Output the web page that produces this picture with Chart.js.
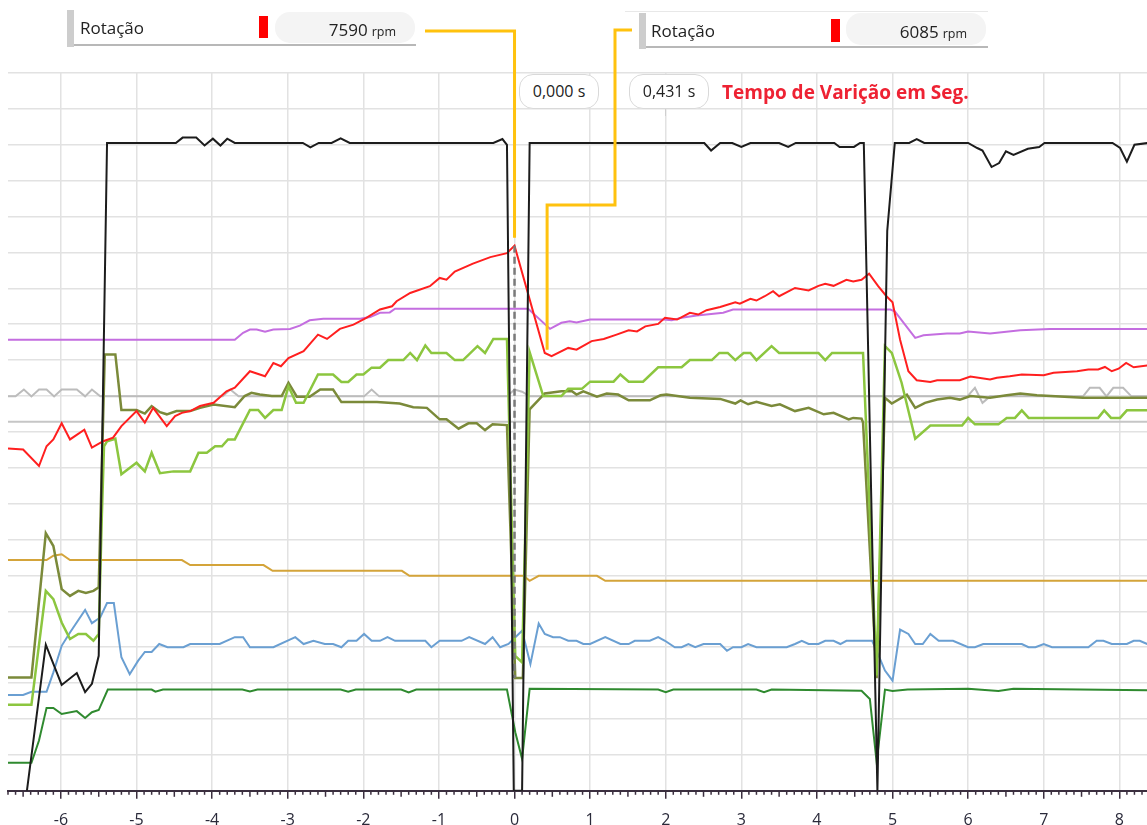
<!DOCTYPE html>
<html>
<head>
<meta charset="utf-8">
<title>Rotação</title>
<script src="https://cdn.jsdelivr.net/npm/chart.js@4.4.0/dist/chart.umd.min.js"></script>
<style>
    html, body { margin: 0; padding: 0; background: #fff; }
    #wrap { position: relative; width: 1147px; height: 825px; overflow: hidden; font-family: "Open Sans", "Noto Sans", sans-serif; color: #222; }
    #chart { position: absolute; left: 0; top: 0; }
    .abs { position: absolute; }
    .bar { background: #cdcdcd; }
    .line { background: #b8b8b8; }
    .label { font-size: 17px; line-height: 20px; }
    .mark { background: #ff0000; }
    .pill { background: #f4f4f4; border-radius: 15px; text-align: right; box-sizing: border-box; padding-right: 19px; font-size: 17px; }
    .pill small { font-size: 12.5px; margin-left: 4px; }
    .time { border: 1.5px solid #d9d9d9; border-radius: 14px; box-sizing: border-box; text-align: center; font-size: 16px; background: #fff; }
    .note { color: #ee2233; font-weight: bold; font-size: 19px; }
</style>
</head>
<body>
<div id="wrap">
    <canvas id="chart" width="1147" height="842"></canvas>

    <!-- left cursor readout -->
    <div class="abs bar" style="left:67px;top:10px;width:7px;height:37px"></div>
    <div class="abs line" style="left:74px;top:44px;width:342px;height:2px"></div>
    <div class="abs label" style="left:80px;top:18px">Rotação</div>
    <div class="abs mark" style="left:259px;top:16px;width:9px;height:22px"></div>
    <div class="abs pill" style="left:275px;top:12px;width:140px;height:31px;line-height:35px">7590<small>rpm</small></div>

    <!-- right cursor readout -->
    <div class="abs" style="left:625px;top:11px;width:363px;height:1px;background:#e8e8e8"></div>
    <div class="abs bar" style="left:639px;top:13px;width:7px;height:36px"></div>
    <div class="abs line" style="left:646px;top:46px;width:342px;height:2px"></div>
    <div class="abs label" style="left:651px;top:21px">Rotação</div>
    <div class="abs mark" style="left:831px;top:19px;width:9px;height:23px"></div>
    <div class="abs pill" style="left:846px;top:13px;width:140px;height:32px;line-height:37px">6085<small>rpm</small></div>

    <!-- time boxes -->
    <div class="abs time" style="left:519px;top:74px;width:80px;height:35px;line-height:32px">0,000 s</div>
    <div class="abs time" style="left:629px;top:74px;width:80px;height:35px;line-height:32px">0,431 s</div>
    <div class="abs" style="left:665px;top:109px;width:1px;height:7px;background:#cfcfcf"></div>
    <div class="abs note" style="left:722px;top:79px">Tempo de Varição em Seg.</div>
</div>

<script>
// --- DATA (x = seconds, y = normalised grid units 0..20) ---
const xTicks = [-6, -5, -4, -3, -2, -1, 0, 1, 2, 3, 4, 5, 6, 7, 8];

const cursorA = 0.0;     // 7590 rpm
const cursorB = 0.431;   // 6085 rpm
const cursorEndA = 15.41;
const cursorEndB = 12.29;

const blackPts = [
    [-6.45, 0], [-6.20, 4.07], [-5.99, 2.95], [-5.79, 3.28], [-5.68, 2.75], [-5.59, 2.98], [-5.50, 3.76],
    [-5.39, 18.05], [-4.48, 18.05], [-4.39, 18.2], [-4.21, 18.2], [-4.10, 17.98], [-3.99, 18.17],
    [-3.89, 17.98], [-3.80, 18.17], [-3.70, 18.05], [-2.80, 18.05], [-2.70, 17.93], [-2.59, 18.05],
    [-2.42, 18.05], [-2.30, 18.18], [-2.18, 18.05], [-0.28, 18.05], [-0.16, 18.16], [-0.10, 18.0],
    [-0.01, 0], [0.10, 0], [0.20, 18.05], [2.51, 18.05], [2.60, 17.84], [2.72, 18.05], [2.88, 18.05],
    [3.00, 17.94], [3.12, 18.05], [3.50, 18.05], [3.62, 17.94], [3.72, 18.05], [4.23, 18.05],
    [4.30, 17.94], [4.49, 17.94], [4.57, 18.05], [4.62, 18.05], [4.80, 0], [4.93, 15.6], [5.03, 18.05],
    [5.22, 18.05], [5.32, 18.16], [5.42, 18.05], [6.00, 18.05], [6.12, 17.91], [6.19, 17.84],
    [6.31, 17.38], [6.41, 17.49], [6.50, 17.82], [6.60, 17.72], [6.79, 17.89], [6.94, 17.94],
    [7.01, 18.05], [7.91, 18.05], [8.01, 17.91], [8.10, 17.53], [8.20, 18.0], [8.38, 18.05]
];

const redPts = [
    [-6.70, 9.54], [-6.50, 9.51], [-6.29, 9.05], [-6.19, 9.60], [-6.10, 9.79], [-5.99, 10.24],
    [-5.88, 9.79], [-5.69, 10.06], [-5.59, 9.56], [-5.44, 9.74], [-5.31, 9.84], [-5.20, 10.16],
    [-5.00, 10.58], [-4.89, 10.26], [-4.78, 10.67], [-4.60, 10.16], [-4.49, 10.44], [-4.40, 10.53],
    [-4.29, 10.58], [-4.16, 10.72], [-3.98, 10.81], [-3.81, 11.13], [-3.70, 11.23], [-3.50, 11.69],
    [-3.30, 11.55], [-3.19, 11.92], [-3.09, 11.83], [-2.99, 12.06], [-2.79, 12.25], [-2.60, 12.71],
    [-2.48, 12.59], [-2.31, 12.87], [-2.13, 12.99], [-1.96, 13.18], [-1.78, 13.41], [-1.62, 13.5],
    [-1.56, 13.64], [-1.38, 13.87], [-1.12, 14.06], [-0.99, 14.29], [-0.90, 14.24], [-0.79, 14.47],
    [-0.55, 14.69], [-0.32, 14.87], [-0.10, 14.98], [0.0, 15.19], [0.40, 12.2], [0.49, 12.11],
    [0.71, 12.34], [0.82, 12.29], [1.02, 12.53], [1.18, 12.59], [1.35, 12.71], [1.51, 12.83],
    [1.62, 12.80], [1.73, 12.94], [1.90, 13.01], [1.99, 13.18], [2.15, 13.13], [2.32, 13.32],
    [2.43, 13.27], [2.54, 13.39], [2.72, 13.48], [2.92, 13.61], [2.98, 13.57], [3.12, 13.71],
    [3.20, 13.66], [3.31, 13.78], [3.42, 13.92], [3.50, 13.78], [3.71, 14.01], [3.89, 13.94],
    [4.02, 14.07], [4.11, 14.13], [4.22, 14.07], [4.39, 14.24], [4.48, 14.19], [4.59, 14.24],
    [4.69, 14.41], [4.81, 14.06], [4.92, 13.78], [5.00, 13.61], [5.10, 12.57], [5.21, 11.69],
    [5.32, 11.44], [5.50, 11.39], [5.59, 11.44], [5.89, 11.44], [6.03, 11.54], [6.29, 11.46],
    [6.38, 11.51], [6.55, 11.55], [6.71, 11.6], [7.00, 11.58], [7.13, 11.65], [7.44, 11.69],
    [7.59, 11.74], [7.72, 11.74], [7.81, 11.81], [7.90, 11.69], [7.99, 11.76], [8.09, 11.92],
    [8.19, 11.8], [8.37, 11.85]
];

const purplePts = [
    [-6.70, 12.57], [-3.70, 12.57], [-3.59, 12.76], [-3.50, 12.85], [-3.41, 12.85], [-3.30, 12.79],
    [-3.19, 12.85], [-2.97, 12.87], [-2.84, 12.96], [-2.71, 13.11], [-2.53, 13.15], [-2.04, 13.15],
    [-1.91, 13.2], [-1.78, 13.32], [-1.65, 13.33], [-1.58, 13.43], [0.18, 13.43], [0.47, 12.87],
    [0.62, 13.04], [0.73, 13.08], [0.82, 13.05], [1.00, 13.13], [1.97, 13.13], [2.08, 13.11],
    [2.21, 13.18], [2.41, 13.24], [2.76, 13.32], [2.89, 13.41], [3.03, 13.41], [4.97, 13.41],
    [5.03, 13.36], [5.30, 12.62], [5.41, 12.69], [5.72, 12.74], [5.89, 12.74], [6.00, 12.8],
    [6.29, 12.74], [6.69, 12.83], [7.08, 12.87], [8.37, 12.87]
];

const lightGreenPts = [
    [-6.70, 2.40], [-6.39, 2.40], [-6.20, 5.57], [-6.10, 5.34], [-5.99, 4.69], [-5.88, 4.23],
    [-5.77, 4.37], [-5.67, 4.37], [-5.57, 4.18], [-5.50, 4.37], [-5.46, 7.57], [-5.43, 9.60],
    [-5.39, 9.74], [-5.28, 9.81], [-5.20, 8.82], [-5.00, 9.14], [-4.89, 8.9], [-4.80, 9.42],
    [-4.69, 8.85], [-4.51, 8.9], [-4.29, 8.9], [-4.18, 9.42], [-4.07, 9.42], [-3.96, 9.6],
    [-3.87, 9.6], [-3.79, 9.79], [-3.70, 9.79], [-3.50, 10.61], [-3.39, 10.61], [-3.30, 10.39],
    [-3.19, 10.61], [-3.08, 10.61], [-2.99, 11.27], [-2.89, 10.81], [-2.79, 10.81], [-2.60, 11.6],
    [-2.40, 11.6], [-2.29, 11.39], [-2.20, 11.39], [-2.09, 11.6], [-2.00, 11.6], [-1.89, 11.79],
    [-1.78, 11.79], [-1.67, 12.0], [-1.47, 12.0], [-1.38, 12.2], [-1.29, 12.0], [-1.18, 12.41],
    [-1.10, 12.2], [-0.90, 12.2], [-0.79, 12.0], [-0.68, 12.0], [-0.49, 12.39], [-0.39, 12.2],
    [-0.28, 12.59], [-0.10, 12.59], [0.01, 3.76], [0.10, 3.58], [0.20, 12.22], [0.38, 11.0],
    [0.62, 11.0], [0.71, 11.2], [0.89, 11.2], [1.00, 11.4], [1.31, 11.4], [1.40, 11.6], [1.51, 11.4],
    [1.70, 11.4], [1.90, 11.8], [2.21, 11.8], [2.32, 12.0], [2.61, 12.0], [2.71, 12.2], [2.82, 12.2],
    [2.92, 12.0], [3.03, 12.2], [3.12, 12.2], [3.20, 12.0], [3.40, 12.39], [3.50, 12.2], [4.02, 12.2],
    [4.11, 12.0], [4.20, 12.2], [4.61, 12.2], [4.79, 3.21], [4.90, 12.39], [4.99, 12.2], [5.12, 11.37],
    [5.30, 9.81], [5.50, 10.18], [5.92, 10.18], [6.00, 10.39], [6.09, 10.21], [6.40, 10.21],
    [6.51, 10.39], [6.62, 10.39], [6.71, 10.6], [6.80, 10.39], [7.72, 10.39], [7.80, 10.6],
    [7.89, 10.39], [8.01, 10.39], [8.10, 10.6], [8.37, 10.6]
];

const olivePts = [
    [-6.70, 3.16], [-6.39, 3.16], [-6.20, 7.18], [-6.10, 6.82], [-5.99, 5.62], [-5.88, 5.43],
    [-5.77, 5.57], [-5.67, 5.51], [-5.57, 5.57], [-5.50, 5.67], [-5.42, 12.16], [-5.28, 12.16],
    [-5.20, 10.61], [-5.00, 10.61], [-4.89, 10.51], [-4.80, 10.72], [-4.69, 10.55], [-4.60, 10.49],
    [-4.47, 10.58], [-4.29, 10.58], [-4.16, 10.67], [-3.98, 10.76], [-3.70, 10.69], [-3.57, 11.0],
    [-3.48, 11.09], [-3.37, 11.04], [-3.21, 11.0], [-3.08, 11.0], [-2.99, 11.37], [-2.88, 10.98],
    [-2.71, 10.98], [-2.57, 11.18], [-2.40, 11.18], [-2.29, 10.83], [-1.82, 10.83], [-1.52, 10.79],
    [-1.34, 10.69], [-1.16, 10.67], [-0.99, 10.35], [-0.90, 10.35], [-0.74, 10.09], [-0.61, 10.24],
    [-0.50, 10.24], [-0.39, 10.05], [-0.29, 10.21], [-0.10, 10.19], [0.01, 3.14], [0.11, 3.14],
    [0.20, 10.63], [0.40, 11.07], [0.62, 11.13], [0.76, 11.13], [0.82, 11.04], [0.91, 11.13],
    [1.09, 10.98], [1.22, 11.07], [1.37, 11.04], [1.51, 10.88], [1.79, 10.88], [1.93, 11.02],
    [2.01, 11.04], [2.32, 10.95], [2.72, 10.92], [2.92, 10.79], [2.99, 10.88], [3.09, 10.77],
    [3.20, 10.84], [3.40, 10.72], [3.51, 10.77], [3.71, 10.58], [3.89, 10.67], [4.09, 10.49],
    [4.22, 10.53], [4.42, 10.35], [4.48, 10.39], [4.59, 10.37], [4.61, 10.26], [4.79, 3.14],
    [4.90, 10.95], [4.99, 10.79], [5.19, 11.04], [5.30, 10.67], [5.43, 10.81], [5.59, 10.9],
    [5.76, 10.95], [5.89, 10.9], [6.03, 11.0], [6.29, 10.95], [6.51, 11.02], [6.69, 11.07],
    [6.91, 11.02], [7.52, 10.95], [8.37, 10.95]
];

const goldPts = [
    [-6.70, 6.43], [-6.19, 6.43], [-6.10, 6.55], [-5.99, 6.59], [-5.88, 6.43], [-4.40, 6.43],
    [-4.29, 6.29], [-3.32, 6.29], [-3.20, 6.13], [-1.49, 6.13], [-1.39, 5.99], [0.12, 5.99],
    [0.20, 5.85], [0.32, 5.99], [1.09, 5.99], [1.20, 5.85], [8.37, 5.85]
];

const bluePts = [
    [-6.70, 2.67], [-6.50, 2.67], [-6.39, 2.76], [-6.19, 2.76], [-6.10, 3.30], [-5.99, 4.04],
    [-5.88, 4.41], [-5.68, 5.04], [-5.59, 4.67], [-5.48, 4.83], [-5.39, 5.23], [-5.30, 5.23],
    [-5.20, 3.72], [-5.09, 3.25], [-4.98, 3.62], [-4.89, 3.87], [-4.80, 3.87], [-4.70, 4.09],
    [-4.59, 4.0], [-4.38, 4.0], [-4.29, 4.09], [-3.90, 4.09], [-3.70, 4.28], [-3.59, 4.28],
    [-3.50, 4.0], [-3.19, 4.0], [-2.90, 4.28], [-2.79, 4.09], [-2.66, 4.18], [-2.51, 4.09],
    [-2.40, 4.09], [-2.29, 4.0], [-2.20, 4.18], [-2.09, 4.18], [-1.99, 4.37], [-1.89, 4.18],
    [-1.78, 4.18], [-1.68, 4.28], [-1.58, 4.18], [-1.18, 4.18], [-1.10, 4.0], [-0.99, 4.18],
    [-0.70, 4.18], [-0.60, 4.28], [-0.39, 4.09], [-0.29, 4.28], [-0.19, 4.0], [-0.08, 4.09],
    [0.10, 4.46], [0.21, 3.53], [0.32, 4.66], [0.40, 4.37], [0.51, 4.28], [0.60, 4.28], [0.71, 4.18],
    [0.82, 4.18], [0.91, 4.09], [1.00, 4.09], [1.20, 4.28], [1.40, 4.09], [1.51, 4.09], [1.59, 4.18],
    [1.79, 4.18], [1.90, 4.28], [1.99, 4.18], [2.12, 4.0], [2.21, 4.0], [2.30, 4.09], [2.39, 4.0],
    [2.50, 4.09], [2.72, 4.09], [2.81, 3.90], [2.89, 4.0], [3.00, 4.0], [3.09, 4.09], [3.20, 4.0],
    [3.60, 4.0], [3.71, 4.09], [3.80, 4.18], [3.89, 4.09], [4.02, 4.09], [4.11, 4.18], [4.22, 4.18],
    [4.31, 4.09], [4.39, 4.18], [4.73, 4.18], [4.79, 3.90], [4.90, 3.35], [5.00, 3.07], [5.10, 4.49],
    [5.21, 4.37], [5.30, 4.09], [5.40, 4.09], [5.50, 4.37], [5.61, 4.18], [5.80, 4.18], [6.00, 4.0],
    [6.09, 4.0], [6.20, 4.09], [6.71, 4.09], [6.80, 4.0], [6.89, 4.0], [7.00, 4.09], [7.11, 4.0],
    [7.59, 4.0], [7.70, 4.18], [7.79, 4.18], [7.90, 4.09], [8.10, 4.09], [8.19, 4.18], [8.27, 4.18],
    [8.37, 4.09]
];

const darkGreenPts = [
    [-6.70, 0.78], [-6.39, 0.78], [-6.29, 1.40], [-6.19, 2.31], [-6.10, 2.31], [-5.99, 2.14],
    [-5.79, 2.22], [-5.68, 2.03], [-5.59, 2.19], [-5.50, 2.25], [-5.38, 2.82], [-4.80, 2.82],
    [-4.75, 2.76], [-4.65, 2.82], [-3.60, 2.82], [-3.50, 2.77], [-3.40, 2.82], [-2.30, 2.82],
    [-2.20, 2.76], [-2.10, 2.82], [-1.50, 2.82], [-1.40, 2.74], [-1.30, 2.82], [-0.10, 2.82],
    [0.01, 1.63], [0.10, 0.89], [0.20, 2.84], [1.90, 2.82], [2.00, 2.75], [2.10, 2.82], [3.20, 2.82],
    [3.30, 2.75], [3.40, 2.82], [4.59, 2.79], [4.70, 2.56], [4.79, 0.80], [4.90, 2.82], [5.00, 2.78],
    [5.20, 2.82], [6.00, 2.84], [6.40, 2.78], [6.60, 2.84], [8.37, 2.80]
];

const grayPts = [
    [-6.70, 10.99], [-6.60, 10.99], [-6.49, 11.18], [-6.39, 10.99], [-6.29, 11.18], [-6.19, 11.18],
    [-6.09, 10.99], [-5.99, 11.18], [-5.79, 11.18], [-5.68, 10.99], [-5.59, 11.18], [-5.48, 10.99],
    [-3.86, 10.99], [-3.76, 11.18], [-3.65, 10.99], [-1.99, 10.99], [-1.89, 11.18], [-1.79, 10.99],
    [-0.10, 10.99], [0.00, 11.18], [0.10, 11.12], [0.20, 10.99], [5.99, 10.99], [6.09, 11.23],
    [6.19, 10.81], [6.29, 10.99], [7.52, 10.99], [7.61, 11.23], [7.74, 11.23], [7.83, 10.99],
    [7.92, 11.23], [8.05, 11.23], [8.16, 10.99], [8.37, 10.99]
];

const grayFlatPts = [[-6.70, 10.28], [8.37, 10.28]];

const cursorDashPts = [[0.0, 15.19], [0.0, 3.14]];

// --- HELPERS ---
const toXY = (pts) => pts.map(([x, y]) => ({ x: x, y: y }));

function series(label, pts, color, width, extra) {
    return Object.assign({
        label: label,
        data: toXY(pts),
        borderColor: color,
        borderWidth: width,
        pointRadius: 0,
        tension: 0,
        fill: false
    }, extra || {});
}

// minor ticks on the time axis (every 0.1 s, longer at 0.5 s)
const minorTicks = {
    id: 'minorTicks',
    afterDraw(chart) {
        const x = chart.scales.x;
        const ctx = chart.ctx;
        const base = x.top;
        ctx.save();
        ctx.strokeStyle = '#3b2f3f';
        ctx.lineWidth = 1.5;
        for (let i = Math.ceil(x.min * 10); i <= Math.floor(x.max * 10); i++) {
            if (i % 10 === 0) continue;
            const len = (Math.abs(i) % 5 === 0) ? 6 : 4;
            const px = x.getPixelForValue(i / 10);
            ctx.beginPath();
            ctx.moveTo(px, base);
            ctx.lineTo(px, base + len);
            ctx.stroke();
        }
        ctx.restore();
    }
};

// yellow cursor leaders from the readout boxes
const cursorLeaders = {
    id: 'cursorLeaders',
    afterDatasetsDraw(chart) {
        const { ctx, scales: { x, y } } = chart;
        const ax = x.getPixelForValue(cursorA);
        const bx = x.getPixelForValue(cursorB);
        ctx.save();
        ctx.strokeStyle = '#ffc20e';
        ctx.lineWidth = 3;
        ctx.lineJoin = 'miter';
        ctx.beginPath();
        ctx.moveTo(425, 31);
        ctx.lineTo(ax, 31);
        ctx.lineTo(ax, y.getPixelForValue(cursorEndA));
        ctx.stroke();
        ctx.beginPath();
        ctx.moveTo(632, 30);
        ctx.lineTo(615, 30);
        ctx.lineTo(615, 205);
        ctx.lineTo(bx, 205);
        ctx.lineTo(bx, y.getPixelForValue(cursorEndB));
        ctx.stroke();
        ctx.restore();
    }
};

Chart.defaults.font.family = '"Open Sans", "Noto Sans", sans-serif';

new Chart(document.getElementById('chart'), {
    type: 'line',
    data: {
        datasets: [
            series('Marcha', blackPts, '#1c1c1c', 2),
            series('Cursor', cursorDashPts, '#7a7a7a', 2.5, { borderDash: [7, 4] }),
            series('Rotação', redPts, '#ff1f1f', 2),
            series('Pedal', purplePts, '#c46ee0', 2),
            series('Sinal A', lightGreenPts, '#8cc63f', 2.5),
            series('Sinal B', olivePts, '#7b8a3a', 2.5),
            series('Sinal C', bluePts, '#6a9fd2', 2),
            series('Sinal D', darkGreenPts, '#2f8a2f', 2),
            series('Sinal E', goldPts, '#d4a43a', 2),
            series('Sinal F', grayPts, '#bcbcbc', 2),
            series('Referência', grayFlatPts, '#c6c6c6', 2)
        ]
    },
    options: {
        responsive: false,
        animation: false,
        devicePixelRatio: 1,
        layout: { padding: { left: 8, right: 0, top: 73, bottom: 0 } },
        plugins: {
            legend: { display: false },
            tooltip: { enabled: false }
        },
        scales: {
            x: {
                type: 'linear',
                min: -6.70,
                max: 8.366,
                afterBuildTicks: (axis) => { axis.ticks = xTicks.map(v => ({ value: v })); },
                grid: {
                    color: '#e2e2e2',
                    lineWidth: 1.5,
                    tickColor: '#3b2f3f',
                    tickLength: 8,
                    tickWidth: 1.5
                },
                border: { display: true, color: '#3b2f3f', width: 2 },
                ticks: {
                    color: '#2a2a3a',
                    font: { size: 16 },
                    padding: 12,
                    maxRotation: 0,
                    autoSkip: false,
                    callback: (v) => String(v)
                }
            },
            y: {
                min: 0,
                max: 20,
                ticks: { display: false, stepSize: 1 },
                grid: { color: '#e2e2e2', lineWidth: 1.5, drawTicks: false },
                border: { display: false }
            }
        }
    },
    plugins: [minorTicks, cursorLeaders]
});
</script>
</body>
</html>
